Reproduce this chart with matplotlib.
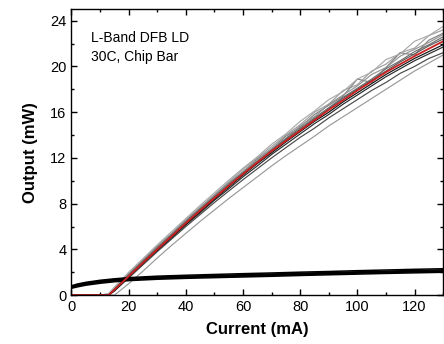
import matplotlib
matplotlib.use("Agg")
import matplotlib.pyplot as plt
from matplotlib.ticker import MultipleLocator

plt.rcParams['font.family'] = ['Liberation Sans', 'DejaVu Sans']

# L-I curves, current grid (mA)
current = [0, 5, 10, 13, 15, 20, 25, 30, 35, 40, 45, 50, 55, 60, 65, 70,
           75, 80, 85, 90, 95, 100, 105, 110, 115, 120, 125, 130]

# fitted curve (red)
fit = [0, 0, 0, 0, 0.47, 1.65, 2.83, 4.0, 5.15, 6.3, 7.4, 8.5, 9.55, 10.6,
       11.6, 12.6, 13.5, 14.4, 15.3, 16.2, 17.05, 17.9, 18.7, 19.5, 20.2,
       20.9, 21.55, 22.2]

# measured chips (output, mW)
chip_a = [0, 0, 0, 0.1, 0.6, 1.9, 3.1, 4.3, 5.4, 6.6, 7.7, 8.8, 9.9, 11.0,
          12.0, 13.0, 14.0, 14.9, 16.0, 16.7, 17.9, 18.4, 19.6, 20.2, 21.2,
          21.6, 22.7, 23.2]
chip_b = [0, 0, 0, 0, 0.5, 1.8, 3.0, 4.2, 5.3, 6.5, 7.6, 8.7, 9.8, 10.8,
          11.9, 12.8, 13.9, 14.7, 15.8, 16.6, 17.4, 18.9, 18.6, 19.9, 21.2,
          21.0, 22.3, 22.9]
chip_c = [0, 0, 0, 0, 0.45, 1.75, 2.95, 4.1, 5.25, 6.4, 7.55, 8.65, 9.7,
          10.8, 11.8, 12.8, 13.7, 14.8, 15.6, 16.7, 17.5, 18.3, 19.3, 19.9,
          20.9, 21.5, 22.1, 22.8]
chip_d = [0, 0, 0, 0.05, 0.55, 1.8, 3.0, 4.15, 5.3, 6.45, 7.55, 8.6, 9.7,
          10.7, 11.7, 12.7, 13.7, 14.6, 15.5, 16.4, 17.3, 18.1, 18.9, 19.8,
          20.5, 21.3, 21.9, 22.6]
chip_e = [0, 0, 0, 0, 0.4, 1.6, 2.75, 3.9, 5.0, 6.15, 7.2, 8.3, 9.3, 10.35,
          11.3, 12.3, 13.2, 14.1, 15.0, 15.8, 16.7, 17.5, 18.3, 19.1, 19.8,
          20.5, 21.1, 21.7]
chip_f = [0, 0, 0, 0, 0.4, 1.6, 2.8, 3.95, 5.1, 6.2, 7.3, 8.4, 9.45, 10.5,
          11.5, 12.45, 13.4, 14.3, 15.2, 16.0, 16.9, 17.7, 18.5, 19.3, 20.0,
          20.7, 21.3, 21.9]
chip_g = [0, 0, 0, 0, 0.35, 1.5, 2.65, 3.8, 4.9, 6.0, 7.05, 8.1, 9.1, 10.1,
          11.05, 12.0, 12.9, 13.8, 14.6, 15.5, 16.3, 17.1, 17.9, 18.6, 19.4,
          20.0, 20.7, 21.2]
chip_h = [0, 0, 0, 0, 0, 1.0, 2.1, 3.25, 4.35, 5.4, 6.45, 7.45, 8.45, 9.4,
          10.35, 11.3, 12.2, 13.05, 13.9, 14.8, 15.6, 16.4, 17.2, 18.0, 18.8,
          19.6, 20.3, 21.0]
chip_i = [0, 0, 0, 0.15, 0.7, 2.0, 3.2, 4.4, 5.55, 6.7, 7.85, 8.95, 10.05,
          11.1, 12.1, 13.2, 14.1, 15.2, 16.1, 17.1, 17.8, 18.9, 19.5, 20.6,
          21.1, 22.2, 22.7, 23.5]
chip_j = [0, 0, 0, 0, 0.5, 1.7, 2.9, 4.05, 5.2, 6.35, 7.45, 8.55, 9.6, 10.65,
          11.65, 12.6, 13.6, 14.5, 15.4, 16.3, 17.2, 18.0, 18.8, 19.6, 20.4,
          21.1, 21.8, 22.4]

chips = [chip_a, chip_b, chip_c, chip_d, chip_i, chip_h, chip_j, chip_g,
         chip_e, chip_f]
chip_colors = ['#a0a0a0', '#828282', '#949494', '#707070', '#aaaaaa',
               '#999999', '#5a5a5a', '#4a4a4a', '#2a2a2a', '#111111']

# lower family of curves
current_low = [0, 2, 5, 10, 15, 20, 30, 40, 50, 60, 70, 80, 90, 100, 110,
               120, 130]
low_1 = [0.72, 0.85, 1.0, 1.17, 1.3, 1.4, 1.52, 1.6, 1.66, 1.72, 1.78, 1.85,
         1.91, 1.97, 2.03, 2.08, 2.13]
low_2 = [0.6, 0.72, 0.87, 1.04, 1.17, 1.27, 1.39, 1.47, 1.53, 1.59, 1.65,
         1.72, 1.78, 1.84, 1.9, 1.95, 2.0]
low_3 = [0.82, 0.97, 1.12, 1.3, 1.43, 1.53, 1.66, 1.74, 1.81, 1.88, 1.94,
         2.01, 2.07, 2.14, 2.2, 2.26, 2.31]
low_4 = [0.67, 0.8, 0.95, 1.12, 1.25, 1.35, 1.47, 1.55, 1.61, 1.67, 1.73,
         1.8, 1.86, 1.92, 1.98, 2.03, 2.08]
low_5 = [0.77, 0.91, 1.06, 1.23, 1.36, 1.46, 1.58, 1.66, 1.72, 1.79, 1.85,
         1.92, 1.98, 2.04, 2.1, 2.16, 2.21]

fig = plt.figure(figsize=(4.44, 3.44), dpi=100)
ax = fig.add_axes([0.161, 0.142, 0.837, 0.831])

for vals, col in zip(chips, chip_colors):
    ax.plot(current, vals, color=col, lw=0.85)

for vals in [low_2, low_4, low_1, low_5, low_3]:
    ax.plot(current_low, vals, color='black', lw=1.1)

ax.plot(current, fit, color='#cc2020', lw=1.3)

ax.set_xlim(0, 130)
ax.set_ylim(0, 25)
ax.xaxis.set_major_locator(MultipleLocator(20))
ax.xaxis.set_minor_locator(MultipleLocator(10))
ax.yaxis.set_major_locator(MultipleLocator(4))
ax.yaxis.set_minor_locator(MultipleLocator(2))
ax.tick_params(which='both', direction='in', top=True, right=True,
               labelsize=10.5, width=1)
ax.tick_params(which='major', length=4.5)
ax.tick_params(which='minor', length=2.5)
for sp in ax.spines.values():
    sp.set_linewidth(1)

ax.set_xlabel('Current (mA)', fontsize=12, fontweight='bold', labelpad=6)
ax.set_ylabel('Output (mW)', fontsize=12, fontweight='bold', labelpad=9)

ax.text(6.7, 23.1, 'L-Band DFB LD\n30C, Chip Bar', fontsize=10,
        va='top', ha='left', linespacing=1.45)

fig.savefig('out.png', dpi=100)
